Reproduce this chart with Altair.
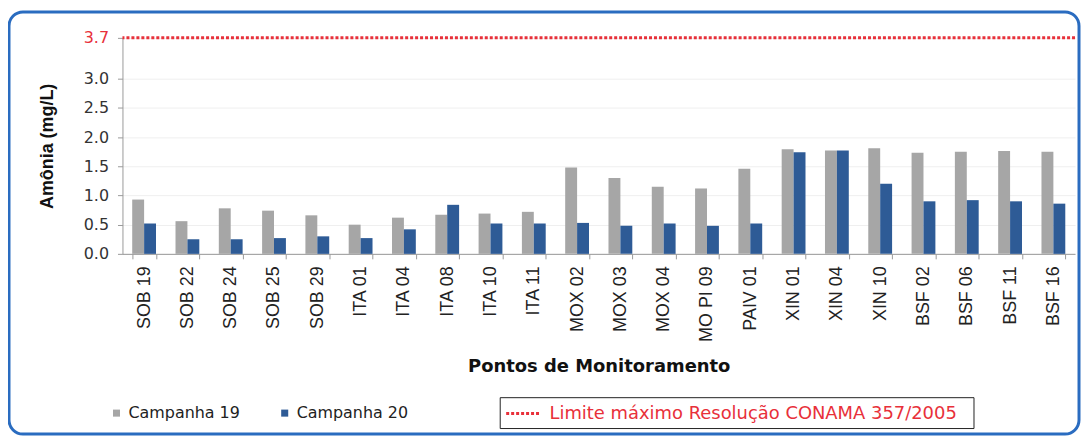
import altair as alt
import pandas as pd

# --- data ---
pontos = ["SOB 19", "SOB 22", "SOB 24", "SOB 25", "SOB 29", "ITA 01", "ITA 04",
          "ITA 08", "ITA 10", "ITA 11", "MOX 02", "MOX 03", "MOX 04", "MO PI 09",
          "PAIV 01", "XIN 01", "XIN 04", "XIN 10", "BSF 02", "BSF 06", "BSF 11", "BSF 16"]
campanha19 = [0.93, 0.56, 0.78, 0.74, 0.66, 0.50, 0.62, 0.67, 0.69, 0.72, 1.48,
              1.30, 1.15, 1.12, 1.46, 1.79, 1.77, 1.81, 1.73, 1.75, 1.76, 1.75]
campanha20 = [0.52, 0.25, 0.25, 0.27, 0.30, 0.27, 0.42, 0.84, 0.52, 0.52, 0.53,
              0.48, 0.52, 0.48, 0.52, 1.74, 1.77, 1.20, 0.90, 0.92, 0.90, 0.86]
series = ["Campanha 19", "Campanha 20"]
series_colors = ["#a6a6a6", "#2e5b96"]
limite = 3.7
limite_label = "Limite máximo  Resolução CONAMA  357/2005"
y_ticks = [0.0, 0.5, 1.0, 1.5, 2.0, 2.5, 3.0, 3.7]

rows = []
for p, a, b in zip(pontos, campanha19, campanha20):
    rows.append({"ponto": p, "campanha": series[0], "valor": a})
    rows.append({"ponto": p, "campanha": series[1], "valor": b})
df = pd.DataFrame(rows)
df_lim = pd.DataFrame({"valor": [limite], "serie": [limite_label]})

FONT = "Liberation Sans"
HFONT = "DejaVu Sans"
W, H = 957, 217

y_axis = alt.Axis(title="Amônia (mg/L)", values=y_ticks, format=".1f",
                  labelFontSize=16, labelFont=HFONT, labelOverlap=False,
                  labelColor=alt.expr("datum.value > 3.5 ? '#e8303a' : '#333333'"),
                  grid=True, gridColor="#efefef", domainColor="#999",
                  tickColor="#999", tickSize=5, labelPadding=9,
                  titleFontSize=18, titleFont=FONT, titleFontWeight="bold",
                  titleColor="#111", titleX=-66)
y_scale = alt.Scale(domain=[0, limite], nice=False, zero=True)

def y_enc():
    return alt.Y("valor:Q", scale=y_scale, axis=y_axis)

frame = alt.Chart(pd.DataFrame({"k": [0]})).mark_rect(
    fill="#ffffff", fillOpacity=0, stroke="#2a6cc0", strokeWidth=3, cornerRadius=14
).encode(
    x=alt.value(-114), x2=alt.value(961), y=alt.value(-26), y2=alt.value(398)
)

bars = alt.Chart(df).mark_bar().encode(
    x=alt.X("ponto:N", sort=pontos,
            scale=alt.Scale(paddingInner=0.45, paddingOuter=0.225),
            axis=alt.Axis(title="Pontos de Monitoramento", labelAngle=-90,
                          labelFontSize=18, labelFont=FONT, labelColor="#222",
                          labelPadding=7, tickBand="extent", tickSize=5,
                          tickColor="#999", domainColor="#999", labelOverlap=False,
                          titleFontSize=18, titleFont=HFONT, titleFontWeight="bold",
                          titleColor="#111", titleY=104, titleBaseline="top")),
    xOffset=alt.XOffset("campanha:N", sort=series),
    y=y_enc(),
    color=alt.Color("campanha:N",
                    scale=alt.Scale(domain=series, range=series_colors),
                    legend=alt.Legend(title=None, orient="none", legendX=-14, legendY=369,
                                      direction="horizontal", symbolType="square",
                                      symbolSize=50, labelFontSize=16, labelFont=HFONT,
                                      labelColor="#222", columnPadding=36, padding=0,
                                      symbolStrokeWidth=0)),
)

rule = alt.Chart(df_lim).mark_rule(strokeDash=[3, 2], strokeWidth=3).encode(
    y=y_enc(),
    stroke=alt.Stroke("serie:N", scale=alt.Scale(range=["#e8303a"]),
                      legend=alt.Legend(title=None, orient="none", legendX=379, legendY=361,
                                        symbolType="M-1,0L2.3,0", symbolSize=400,
                                        symbolStrokeWidth=3, symbolDash=[3, 2],
                                        labelOffset=22,
                                        labelFontSize=18, labelFont=HFONT,
                                        labelColor="#e8303a", labelLimit=700,
                                        strokeColor="#222", padding=5)),
)

chart = alt.layer(frame, bars, rule).resolve_scale(color="independent").properties(
    width=W, height=H,
    autosize=alt.AutoSizeParams(type="none"),
    padding={"left": 115, "top": 29, "right": 6, "bottom": 184},
    background="#ffffff",
).configure_view(stroke=None)

chart.save("out.html", embed_options={"renderer": "svg", "actions": False})
